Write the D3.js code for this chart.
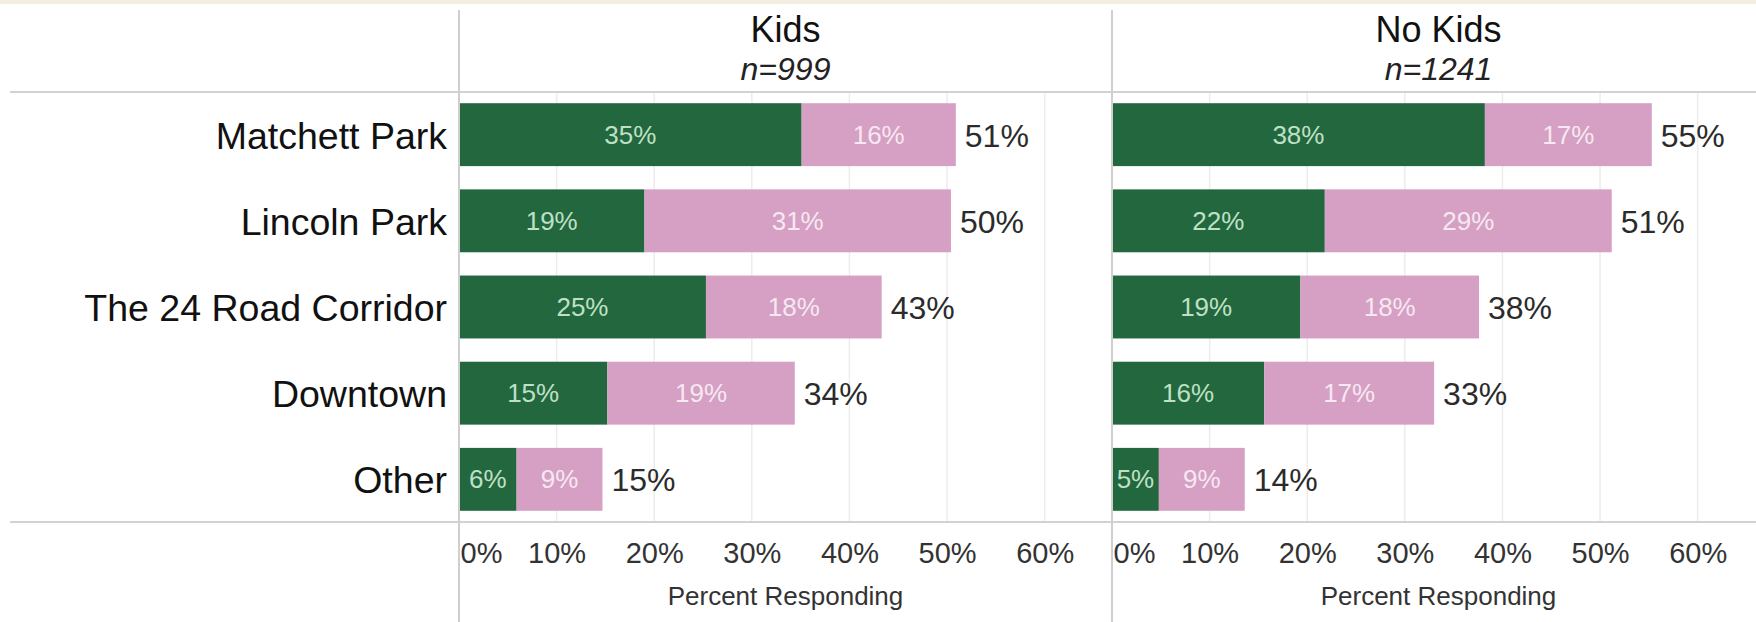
<!DOCTYPE html>
<html>
<head>
<meta charset="utf-8">
<script src="https://cdn.jsdelivr.net/npm/d3@7"></script>
<style>
  body { margin: 0; background: #fff; }
  svg { display: block; font-family: "Liberation Sans", Arial, sans-serif; }
</style>
</head>
<body>
<svg id="chart" width="1756" height="622"></svg>
<script>
var categories = ["Matchett Park", "Lincoln Park", "The 24 Road Corridor", "Downtown", "Other"];
var panels = ["Kids", "No Kids"];
var panelN = ["n=999", "n=1241"];
// first segment (green) and second segment (pink), percent responding
var kidsFirst = [35.1, 19.0, 25.3, 15.2, 5.9];
var kidsSecond = [15.8, 31.4, 18.0, 19.2, 8.8];
var noKidsFirst = [38.2, 21.8, 19.3, 15.6, 4.8];
var noKidsSecond = [17.1, 29.4, 18.3, 17.4, 8.8];
var ticks = [0, 10, 20, 30, 40, 50, 60];

var W = 1756, H = 622;
var headerY = 92, axisY = 522;
var panelX = [459, 1112];
var panelW = 653;

var svg = d3.select("#chart");

// beige strip at the top
svg.append("rect").attr("x", 0).attr("y", 0).attr("width", W).attr("height", 4).attr("fill", "#f3eee0");

var y = d3.scaleBand()
  .domain(categories)
  .range([headerY, axisY])
  .paddingInner(0.27)
  .paddingOuter(0.13);

var x = d3.scaleLinear().domain([0, 66.9]).range([0, panelW]);

var series = [
  { first: kidsFirst, second: kidsSecond },
  { first: noKidsFirst, second: noKidsSecond }
];

series.forEach(function (s, p) {
  var g = svg.append("g").attr("transform", "translate(" + panelX[p] + ",0)");

  // gridlines
  g.selectAll("line.grid")
    .data(ticks.slice(1))
    .enter()
    .append("line")
    .attr("class", "grid")
    .attr("x1", function (d) { return x(d) })
    .attr("x2", function (d) { return x(d) })
    .attr("y1", headerY)
    .attr("y2", axisY)
    .attr("stroke", "#ececec")
    .attr("stroke-width", 1.5);

  var rows = categories.map(function (c, i) {
    return { cat: c, a: s.first[i], b: s.second[i] };
  });

  g.selectAll("rect.first")
    .data(rows)
    .enter()
    .append("rect")
    .attr("x", 0)
    .attr("y", function (d) { return y(d.cat) })
    .attr("width", function (d) { return x(d.a) })
    .attr("height", y.bandwidth())
    .attr("fill", "#22673d");

  g.selectAll("rect.second")
    .data(rows)
    .enter()
    .append("rect")
    .attr("x", function (d) { return x(d.a) })
    .attr("y", function (d) { return y(d.cat) })
    .attr("width", function (d) { return x(d.b) })
    .attr("height", y.bandwidth())
    .attr("fill", "#d5a0c3");

  g.selectAll("text.first")
    .data(rows)
    .enter()
    .append("text")
    .attr("x", function (d) { return x(d.a) / 2 })
    .attr("y", function (d) { return y(d.cat) + y.bandwidth() / 2 + 9 })
    .attr("text-anchor", "middle")
    .attr("font-size", 26)
    .attr("fill", "#bfe0c6")
    .text(function (d) { return Math.round(d.a) + "%" });

  g.selectAll("text.second")
    .data(rows)
    .enter()
    .append("text")
    .attr("x", function (d) { return x(d.a) + x(d.b) / 2 })
    .attr("y", function (d) { return y(d.cat) + y.bandwidth() / 2 + 9 })
    .attr("text-anchor", "middle")
    .attr("font-size", 26)
    .attr("fill", "#f6e8f1")
    .text(function (d) { return Math.round(d.b) + "%" });

  g.selectAll("text.total")
    .data(rows)
    .enter()
    .append("text")
    .attr("x", function (d) { return x(d.a + d.b) + 9 })
    .attr("y", function (d) { return y(d.cat) + y.bandwidth() / 2 + 12 })
    .attr("font-size", 32)
    .attr("fill", "#2b2b2b")
    .text(function (d) { return Math.round(d.a + d.b) + "%" });

  // header
  g.append("text")
    .attr("x", panelW / 2)
    .attr("y", 42)
    .attr("text-anchor", "middle")
    .attr("font-size", 36)
    .attr("fill", "#111")
    .text(panels[p]);
  g.append("text")
    .attr("x", panelW / 2)
    .attr("y", 80)
    .attr("text-anchor", "middle")
    .attr("font-size", 32)
    .attr("font-style", "italic")
    .attr("fill", "#222")
    .text(panelN[p]);

  // axis
  var axis = d3.axisBottom(x).tickValues(ticks).tickSize(0).tickFormat(function (d) { return d + "%" });
  var ag = g.append("g").attr("transform", "translate(0," + axisY + ")").call(axis);
  ag.select(".domain").remove();
  ag.selectAll("text")
    .attr("font-size", 29)
    .attr("font-family", "Liberation Sans, Arial, sans-serif")
    .attr("fill", "#333")
    .attr("dy", 0)
    .attr("y", 41)
    .attr("text-anchor", function (d) { return d === 0 ? "start" : "middle" })
    .attr("x", function (d) { return d === 0 ? 1 : 0 });

  g.append("text")
    .attr("x", panelW / 2)
    .attr("y", 605)
    .attr("text-anchor", "middle")
    .attr("font-size", 26)
    .attr("fill", "#333")
    .text("Percent Responding");
});

// category labels
svg.append("g")
  .selectAll("text")
  .data(categories)
  .enter()
  .append("text")
  .attr("x", 447)
  .attr("y", function (d) { return y(d) + y.bandwidth() / 2 + 14 })
  .attr("text-anchor", "end")
  .attr("font-size", 37.5)
  .attr("fill", "#111")
  .text(function (d) { return d });

// frame lines
svg.append("line").attr("x1", 10).attr("x2", W).attr("y1", headerY).attr("y2", headerY)
  .attr("stroke", "#d2d2d2").attr("stroke-width", 2);
svg.append("line").attr("x1", 10).attr("x2", W).attr("y1", axisY).attr("y2", axisY)
  .attr("stroke", "#d2d2d2").attr("stroke-width", 2);
panelX.forEach(function (px) {
  svg.append("line").attr("x1", px).attr("x2", px).attr("y1", 10).attr("y2", H)
    .attr("stroke", "#cfcfcf").attr("stroke-width", 2);
});
</script>
</body>
</html>
